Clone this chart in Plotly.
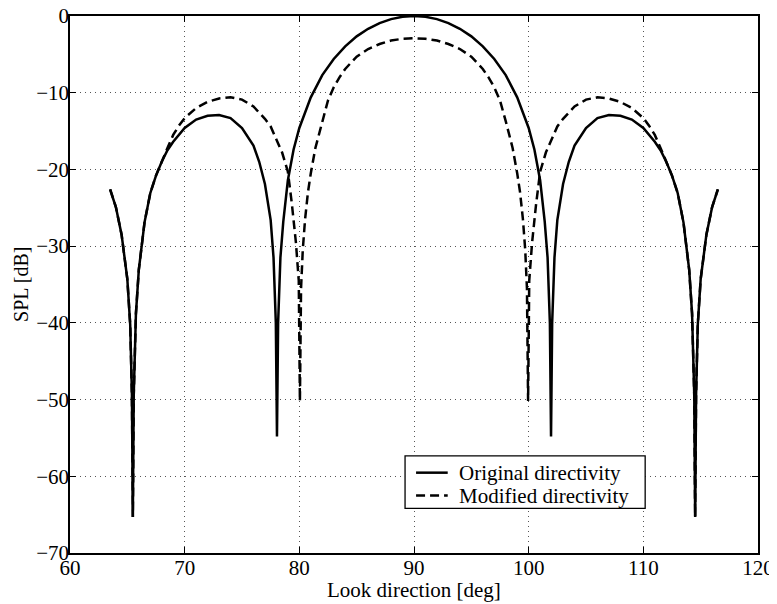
import plotly.graph_objects as go

# Look direction [deg] and SPL [dB]
angle_orig = [63.5, 64.0, 64.5, 65.0, 65.25, 65.4, 65.48, 65.56, 65.75, 66.0, 66.5, 67.0, 67.5,
              68.0, 68.5, 69.0, 70.0, 71.0, 72.0, 73.0, 74.0, 75.0, 76.0, 76.5, 77.0, 77.5,
              77.75, 77.95, 78.05, 78.15, 78.35, 78.6, 79.0, 79.5, 80.0, 81.0, 82.0, 83.0,
              84.0, 85.0, 86.0, 87.0, 88.0, 89.0, 90.0,
              91.0, 92.0, 93.0, 94.0, 95.0, 96.0, 97.0, 98.0, 99.0, 100.0, 100.5, 101.0,
              101.4, 101.65, 101.85, 101.95, 102.05, 102.25, 102.5, 103.0, 103.5, 104.0,
              105.0, 106.0, 107.0, 108.0, 109.0, 110.0, 111.0, 111.5, 112.0, 112.5, 113.0,
              113.5, 114.0, 114.25, 114.44, 114.52, 114.6, 114.75, 115.0, 115.5, 116.0, 116.5]
spl_orig = [-22.6, -24.9, -28.5, -34.3, -40.2, -49.4, -65.3, -49.4, -38.8, -33.1, -26.9, -23.1, -20.8,
            -19.0, -17.5, -16.4, -14.6, -13.5, -13.0, -12.9, -13.3, -14.6, -16.9, -19.0, -21.9, -26.6,
            -31.5, -40.0, -54.8, -40.0, -31.5, -26.8, -21.4, -17.4, -14.6, -10.6, -7.7, -5.6,
            -3.95, -2.65, -1.67, -0.92, -0.41, -0.10, 0.0,
            -0.10, -0.41, -0.92, -1.67, -2.65, -3.95, -5.6, -7.7, -10.6, -14.6, -17.4, -21.4,
            -26.8, -31.5, -40.0, -54.8, -40.0, -31.5, -26.6, -21.9, -19.0, -16.9,
            -14.6, -13.3, -12.9, -13.0, -13.5, -14.6, -16.4, -17.5, -19.0, -20.8, -23.1,
            -26.9, -33.1, -38.8, -49.4, -65.3, -49.4, -40.2, -34.3, -28.5, -24.9, -22.6]

angle_mod = [63.5, 64.0, 64.5, 65.0, 65.25, 65.4, 65.48, 65.56, 65.75, 66.0, 66.5, 67.0, 67.5,
             68.0, 68.5, 69.0, 69.5, 70.0, 71.0, 72.0, 73.0, 74.0, 75.0, 76.0, 77.0, 77.5,
             78.0, 78.5, 79.0, 79.35, 79.7, 79.95, 80.05, 80.15, 80.3, 80.5, 80.75, 81.0,
             81.4, 82.0, 82.5, 83.0, 83.5, 84.0, 85.0, 86.0, 87.0, 88.0, 89.0, 90.0,
             91.0, 92.0, 93.0, 94.0, 95.0, 96.0, 96.5, 97.0, 97.5, 98.0, 98.6, 99.0, 99.25,
             99.5, 99.7, 99.85, 99.95, 100.05, 100.3, 100.65, 101.0, 101.5, 102.0, 102.5,
             103.0, 104.0, 105.0, 106.0, 107.0, 108.0, 109.0, 110.0, 110.5, 111.0, 111.5,
             112.0, 112.5, 113.0, 113.5, 114.0, 114.25, 114.44, 114.52, 114.6, 114.75,
             115.0, 115.5, 116.0, 116.5]
spl_mod = [-22.6, -24.9, -28.5, -34.3, -40.2, -49.4, -65.3, -49.4, -38.8, -33.1, -26.9, -23.1, -20.8,
           -18.9, -17.2, -15.5, -14.3, -13.3, -12.0, -11.2, -10.75, -10.6, -10.9, -11.8, -13.4, -14.4,
           -16.0, -17.8, -20.3, -24.5, -29.5, -34.5, -50.2, -35.5, -30.5, -26.5, -23.0, -20.5,
           -17.2, -13.7, -11.0, -9.3, -8.0, -6.9, -5.3, -4.3, -3.65, -3.2, -2.97, -2.9,
           -2.97, -3.2, -3.65, -4.3, -5.3, -6.9, -8.0, -9.3, -11.0, -13.7, -17.2, -20.5, -23.0,
           -26.5, -30.5, -35.5, -50.2, -34.5, -29.5, -24.5, -20.3, -17.8, -16.0, -14.4,
           -13.4, -11.8, -10.9, -10.6, -10.75, -11.2, -12.0, -13.3, -14.3, -15.5, -17.2,
           -18.9, -20.8, -23.1, -26.9, -33.1, -38.8, -49.4, -65.3, -49.4, -40.2,
           -34.3, -28.5, -24.9, -22.6]

x_ticks = [60, 70, 80, 90, 100, 110, 120]
y_ticks = [-70, -60, -50, -40, -30, -20, -10, 0]
series_names = ["Original directivity", "Modified directivity"]
x_title = "Look direction [deg]"
y_title = "SPL [dB]"

FONT = "Liberation Serif, Times New Roman, serif"
FS = 21

fig = go.Figure()
fig.add_trace(go.Scatter(x=angle_orig, y=spl_orig, mode="lines", name=series_names[0],
                         line=dict(color="black", width=2.5), showlegend=False))
fig.add_trace(go.Scatter(x=angle_mod, y=spl_mod, mode="lines", name=series_names[1],
                         line=dict(color="black", width=2.5, dash="9px,5px"), showlegend=False))

axis_common = dict(showline=True, linecolor="black", linewidth=1.5, mirror="ticks",
                   ticks="inside", ticklen=6, tickwidth=1.3, tickcolor="black",
                   showgrid=True, gridcolor="#555555", gridwidth=1, griddash="1px,4px",
                   zeroline=False, automargin=False, ticklabeloverflow="allow",
                   tickfont=dict(family=FONT, size=FS, color="black"))

fig.update_xaxes(range=[60, 120], tickvals=x_ticks, ticklabelstandoff=-5, **axis_common)
fig.update_yaxes(range=[-70, 0], tickvals=y_ticks, ticklabelstandoff=-5, **axis_common)

# hand-drawn legend box (paper coordinates)
leg_x0, leg_x1, leg_y0, leg_y1 = 0.487, 0.836, 0.083, 0.181
row_y = [0.1496, 0.107]
sample_x0, sample_x1, text_x = 0.503, 0.549, 0.562
shapes = [dict(type="rect", xref="paper", yref="paper", x0=leg_x0, x1=leg_x1, y0=leg_y0, y1=leg_y1,
               line=dict(color="black", width=1.3), fillcolor="white", layer="above")]
dashes = ["solid", "9px,5px"]
annotations = []
for name, ry, dsh in zip(series_names, row_y, dashes):
    shapes.append(dict(type="line", xref="paper", yref="paper", x0=sample_x0, x1=sample_x1,
                       y0=ry, y1=ry, line=dict(color="black", width=2.5, dash=dsh), layer="above"))
    annotations.append(dict(xref="paper", yref="paper", x=text_x, y=ry, text=name,
                            showarrow=False, xanchor="left", yanchor="middle",
                            font=dict(family=FONT, size=FS, color="black")))

# axis titles
annotations.append(dict(xref="paper", yref="paper", x=0.5, y=-0.069, text=x_title, showarrow=False,
                        xanchor="center", yanchor="middle", font=dict(family=FONT, size=FS, color="black")))
annotations.append(dict(xref="paper", yref="paper", x=-0.0895, y=0.5, text=y_title, showarrow=False,
                        textangle=-90, xanchor="left", yanchor="middle", borderpad=0,
                        font=dict(family=FONT, size=20, color="black")))

# the page adds an 8px body margin, so the figure is sized 8px smaller
fig.update_layout(
    width=769, height=596,
    margin=dict(l=62, r=19, t=8, b=51),
    paper_bgcolor="white", plot_bgcolor="white",
    font=dict(family=FONT, size=FS, color="black"),
    shapes=shapes, annotations=annotations,
    showlegend=False,
)

fig.write_html("out.html")
